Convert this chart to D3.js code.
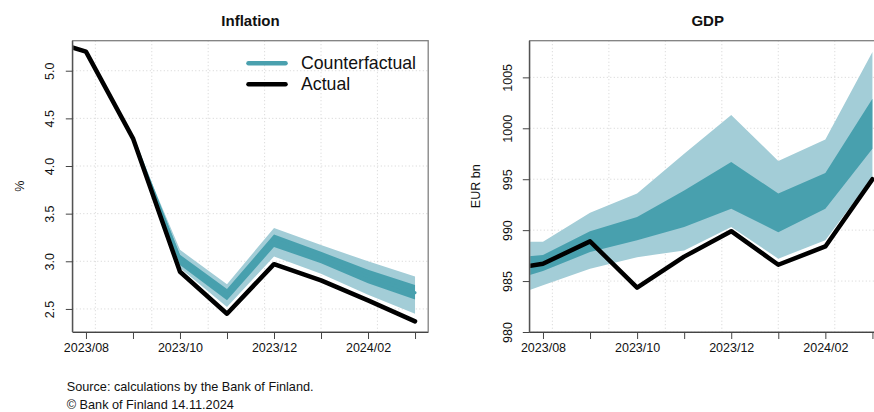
<!DOCTYPE html>
<html><head><meta charset="utf-8">
<script src="https://cdn.jsdelivr.net/npm/d3@7"></script>
<style>
html,body{margin:0;padding:0;background:#fff;}
svg{display:block;font-family:"Liberation Sans",Arial,Helvetica,sans-serif;}
</style></head>
<body><svg id="c" width="874" height="412"></svg>
<script>
// ---------- DATA ----------
const months = ["2023-07","2023-08","2023-09","2023-10","2023-11","2023-12","2024-01","2024-02","2024-03"];
const tickMonths = ["2023-08","2023-09","2023-10","2023-11","2023-12","2024-01","2024-02","2024-03"];
const tickLabels = ["2023/08","","2023/10","","2023/12","","2024/02",""];
const gridYears = [2023.6, 2023.7, 2023.8, 2023.9, 2024.0, 2024.1];

// Inflation (%)
const inflActual = [5.35, 5.20, 4.29, 2.89, 2.45, 2.97, 2.80, 2.59, 2.37];
const inflLo90   = [null, null, 4.29, 2.93, 2.52, 3.05, 2.87, 2.65, 2.45];
const inflLo50   = [null, null, 4.29, 2.96, 2.59, 3.15, 2.98, 2.77, 2.60];
const inflMed    = [null, null, 4.29, 3.02, 2.65, 3.22, 3.04, 2.84, 2.67];
const inflHi50   = [null, null, 4.29, 3.07, 2.71, 3.28, 3.10, 2.91, 2.75];
const inflHi90   = [null, null, 4.29, 3.12, 2.76, 3.35, 3.17, 3.00, 2.84];
const inflTicks  = [2.5, 3.0, 3.5, 4.0, 4.5, 5.0];
const inflDomain = [2.258, 5.315];

// GDP (EUR bn)
const gdpActual = [985.95, 986.7, 988.9, 984.35, 987.4, 989.9, 986.6, 988.4, 995.0];
const gdpLo90   = [982.9, 984.6, 986.2, 987.35, 988.0, 990.3, 987.2, 989.0, 995.2];
const gdpLo50   = [984.55, 986.0, 987.85, 989.0, 990.3, 992.1, 989.8, 992.1, 998.0];
const gdpHi50   = [987.2, 987.55, 989.9, 991.3, 993.9, 996.7, 993.6, 995.6, 1002.9];
const gdpHi90   = [988.85, 988.85, 991.7, 993.6, 997.5, 1001.3, 996.8, 998.9, 1007.5];
const gdpTicks  = [980, 985, 990, 995, 1000, 1005];
const gdpDomain = [980, 1008.6];

const legendLabels = ["Counterfactual", "Actual"];
const footer = ["Source: calculations by the Bank of Finland.", "\u00A9 Bank of Finland 14.11.2024"];

// ---------- STYLE ----------
const C_LIGHT = "#a3cdd7", C_DARK = "#48a0ae", C_LEG = "#4aa0ae";
const toYear = s => { const [y,m] = s.split("-").map(Number); return y + (m-1)/12; };
const svg = d3.select("#c");

function panel(cfg){
  const {x0,x1,title,ylab,ylabX,yTickX,actual,lo90,lo50,med,hi50,hi90,yticks,ydom,id} = cfg;
  const top = 40.7, bot = 332;
  const t0 = toYear(tickMonths[0]), t1 = toYear(tickMonths[tickMonths.length-1]);
  const pad = 0.04*(t1-t0);
  const x = d3.scaleLinear().domain([t0-pad, t1+pad]).range([x0, x1]);
  const y = d3.scaleLinear().domain(ydom).range([bot, top]);
  const g = svg.append("g");
  const clip = g.append("clipPath").attr("id", id).append("rect")
    .attr("x", x0).attr("y", top).attr("width", x1-x0).attr("height", bot-top);

  // grid
  const grid = g.append("g").attr("stroke","#cfcfcf").attr("stroke-width",0.9).attr("stroke-dasharray","1,2.5");
  gridYears.forEach(v => grid.append("line").attr("x1",x(v)).attr("x2",x(v)).attr("y1",top).attr("y2",bot));
  yticks.forEach(v => grid.append("line").attr("x1",x0).attr("x2",x1).attr("y1",y(v)).attr("y2",y(v)));

  const pts = months.map((m,i)=>({t:toYear(m), a:actual[i], l9:lo90[i], l5:lo50[i], md:med?med[i]:null, h5:hi50[i], h9:hi90[i]}));
  const pg = g.append("g").attr("clip-path",`url(#${id})`);
  const band = (lo,hi) => d3.area().defined(d=>d[lo]!=null).x(d=>x(d.t)).y0(d=>y(d[lo])).y1(d=>y(d[hi]));
  pg.append("path").datum(pts).attr("d", band("l9","h9")).attr("fill", C_LIGHT);
  pg.append("path").datum(pts).attr("d", band("l5","h5")).attr("fill", C_DARK);
  if (med) {
    pg.append("path").datum(pts).attr("d", d3.line().defined(d=>d.md!=null).x(d=>x(d.t)).y(d=>y(d.md)))
      .attr("fill","none").attr("stroke",C_DARK).attr("stroke-width",3).attr("stroke-linecap","round");
  }
  pg.append("path").datum(pts).attr("d", d3.line().x(d=>x(d.t)).y(d=>y(d.a)))
    .attr("fill","none").attr("stroke","#000").attr("stroke-width",4.5).attr("stroke-linejoin","round").attr("stroke-linecap","round");

  // box
  g.append("rect").attr("x",x0).attr("y",top).attr("width",x1-x0).attr("height",bot-top)
    .attr("fill","none").attr("stroke","#808080").attr("stroke-width",1.3);

  // x axis
  const xa = d3.axisBottom(x).tickValues(tickMonths.map(toYear)).tickSize(7)
    .tickFormat((d,i)=>tickLabels[i]);
  const gx = g.append("g").attr("transform",`translate(0,${bot})`).call(xa);
  gx.select(".domain").attr("d",`M${x0},0.5H${x1}`).attr("stroke","#444");
  gx.selectAll(".tick line").attr("stroke","#444");
  gx.selectAll(".tick text").attr("y",20).attr("dy",0).attr("fill","#111")
    .style("font-size","12.5px").style("font-family","Liberation Sans, Arial, sans-serif");

  // y axis
  const ya = d3.axisLeft(y).tickValues(yticks).tickSize(7)
    .tickFormat(v => ydom[1] < 100 ? d3.format(".1f")(v) : d3.format("d")(v));
  const gy = g.append("g").attr("transform",`translate(${x0},0)`).call(ya);
  gy.select(".domain").attr("d",`M-0.5,${top}V${bot}`).attr("stroke","#444");
  gy.selectAll(".tick line").attr("stroke","#444");
  gy.selectAll(".tick text").attr("x",null).attr("dy",null)
    .attr("transform",`translate(${yTickX - x0},0) rotate(-90)`)
    .attr("text-anchor","middle").attr("fill","#111")
    .style("font-size","12.5px").style("font-family","Liberation Sans, Arial, sans-serif");

  // title
  g.append("text").attr("x",(x0+x1)/2).attr("y",25.7).attr("text-anchor","middle")
    .style("font-size","15px").style("font-weight","bold").attr("fill","#111").text(title);
  // y label
  g.append("text").attr("transform",`translate(${ylabX},186.3) rotate(-90)`).attr("text-anchor","middle")
    .style("font-size","12.5px").attr("fill","#111").text(ylab);
  return {x,y};
}

panel({id:"clipL", x0:72.8, x1:428.2, title:"Inflation", ylab:"%", ylabX:23.5, yTickX:54,
  actual:inflActual, lo90:inflLo90, lo50:inflLo50, med:inflMed, hi50:inflHi50, hi90:inflHi90,
  yticks:inflTicks, ydom:inflDomain});
panel({id:"clipR", x0:529.8, x1:885.6, title:"GDP", ylab:"EUR bn", ylabX:480, yTickX:511.5,
  actual:gdpActual, lo90:gdpLo90, lo50:gdpLo50, med:null, hi50:gdpHi50, hi90:gdpHi90,
  yticks:gdpTicks, ydom:gdpDomain});

// legend
const leg = svg.append("g");
const legColors = [C_LEG, "#000"];
legendLabels.forEach((lab,i)=>{
  const yy = 63.3 + i*21;
  leg.append("line").attr("x1",248.5).attr("x2",285.5).attr("y1",yy).attr("y2",yy)
    .attr("stroke",legColors[i]).attr("stroke-width",4.5).attr("stroke-linecap","round");
  leg.append("text").attr("x",301).attr("y",yy+5.2).style("font-size","17.7px").attr("fill","#111").text(lab);
});

// footer
footer.forEach((t,i)=>{
  svg.append("text").attr("x",66.7).attr("y",391 + i*18).style("font-size","12.7px").attr("fill","#111").text(t);
});
</script></body></html>
